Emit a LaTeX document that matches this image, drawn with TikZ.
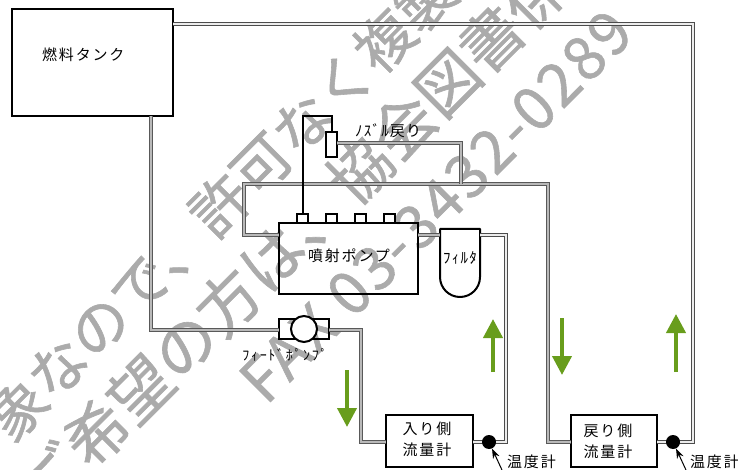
\documentclass[tikz,border=0pt]{standalone}
\usepackage{fontspec}
\usepackage{xcolor}
\usetikzlibrary{arrows.meta}
\newfontfamily\jpm[FakeBold=1]{Noto Sans CJK JP}
\newfontfamily\jpl[LetterSpace=4,FakeBold=1]{Noto Sans CJK JP}
\newfontfamily\jpw[LetterSpace=12]{Noto Sans CJK JP}
\newfontfamily\jpn[LetterSpace=8]{Noto Sans CJK JP}
\definecolor{wm}{HTML}{ABABAB}
\definecolor{flow}{HTML}{689D1C}
\tikzset{
  pipe/.style={draw=black!65,line width=.9pt,double=gray!55,double distance=1.6pt,line join=miter},
  pipew/.style={draw=black!70,line width=.9pt,double=gray!15,double distance=1.8pt,line join=miter},
  thick box/.style={draw=black,line width=2pt,inner sep=0pt,outer sep=0pt},
  wmark/.style={text=wm,rotate=45,inner sep=0pt,font=\jpm\fontsize{60}{60}\selectfont},
  lab/.style={inner sep=0pt,text=black,font=\jpw\fontsize{15}{15}\selectfont,align=center},
  small/.style={inner sep=0pt,text=black,font=\jpn\fontsize{15}{15}\selectfont},
  flowarrow/.style={draw=flow,line width=4pt,-{Triangle[width=19pt,length=19pt]}},
  pointer/.style={draw=black,line width=1pt,-{Stealth[width=7pt,length=10pt]}},
}
\begin{document}
\begin{tikzpicture}[x=1pt,y=-1pt]
\useasboundingbox (0,0) rectangle (738,470);
\begin{scope}
\clip (0,0) rectangle (738,470);
\node[wmark,font=\jpm\fontsize{58}{58}\selectfont] (wm1) at (221,204) {象なので、許可なく複製};
\node[wmark,font=\jpm\fontsize{62}{62}\selectfont] (wm2) at (294,236) {ご希望の方は、協会図書係};
\node[wmark,font=\jpl\fontsize{60}{60}\selectfont] (wm3) at (436,206) {FAX 03-3432-0289};
\end{scope}
% equipment
\node[thick box,minimum width=161pt,minimum height=107pt] (tank) at (92.5,62.5) {};
\node[lab,anchor=west] (tanklabel) at (42,55) {燃料タンク};
\node[thick box,minimum width=139pt,minimum height=71pt] (injpump) at (348.5,258.5) {};
\node[lab] (injlabel) at (349,256) {噴射ポンプ};
\foreach \n/\x in {a/302.5,b/331.5,c/360,d/389}
  \node[thick box,minimum width=11pt,minimum height=9pt,anchor=south] (port\n) at (\x,223) {};
\node[thick box,minimum width=11pt,minimum height=25pt] (nozzle) at (331.5,144.5) {};
\node[small,anchor=west] (nozlabel) at (355,131) {ﾉｽﾞﾙ戻り};
\node[thick box,minimum width=50pt,minimum height=20pt] (feed) at (304,329) {};
\node[thick box,circle,minimum size=26pt,fill=white] (feedc) at (304,329) {};
\node[small,font=\jpw\fontsize{14}{14}\selectfont] (feedlabel) at (285,355) {ﾌｨｰﾄﾞﾎﾟﾝﾌﾟ};
\draw[line width=2pt,line join=round] (440,229) -- (480,229) -- (480,277) arc[start angle=360,end angle=180,radius=20pt] -- cycle;
\node[small] (filterlabel) at (460,258) {ﾌｨﾙﾀ};
\node[thick box,minimum width=87pt,minimum height=52pt] (inbox) at (429.5,441) {};
\node[lab] (inlabel) at (427,439) {入り側\\[6pt]流量計};
\node[thick box,minimum width=86pt,minimum height=52pt] (retbox) at (614,441) {};
\node[lab] (retlabel) at (608,441) {戻り側\\[6pt]流量計};
\node[lab,anchor=west] (t1label) at (507,462) {温度計};
\node[lab,anchor=west] (t2label) at (690,462) {温度計};
% named pipe ends
\coordinate (tankTop) at (173,24);
\coordinate (tankBot) at (151,116);
\coordinate (feedL) at (279,330);
\coordinate (feedR) at (329,330);
\coordinate (inL) at (386,442);
\coordinate (inR) at (473,442);
\coordinate (retL) at (571,442);
\coordinate (retR) at (657,442);
\coordinate (pumpBack) at (279,235);
\coordinate (pumpOut) at (418,235);
\coordinate (filtL) at (440,235);
\coordinate (filtR) at (480,235);
\coordinate (nozR) at (337,143);
\coordinate (mainJoin) at (461,184);
% pipes
\draw[pipew] (tankTop) -- (693,24) -- (693,442) -- (retR);
\draw[pipe] (tankBot) -- (151,330) -- (feedL);
\draw[pipe] (feedR) -- (361,330) -- (361,442) -- (inL);
\draw[pipew] (inR) -- (506,442) -- (506,235) -- (filtR);
\draw[pipe] (pumpOut) -- (filtL);
\draw[pipe] (retL) -- (548,442) -- (548,184) -- (244,184) -- (244,235) -- (pumpBack);
\draw[pipe] (nozR) -- (461,143) -- (mainJoin);
\draw[line width=2pt,line join=miter] (porta.north) -- (302.5,116) -- (331.5,116) -- (nozzle.north);
% thermometers
\node[circle,fill=black,minimum size=14pt,inner sep=0pt] (t1) at (489,442) {};
\node[circle,fill=black,minimum size=14pt,inner sep=0pt] (t2) at (673,442) {};
% flow arrows
\coordinate (f1a) at (347,370); \coordinate (f1b) at (347,427);
\coordinate (f2a) at (493,372); \coordinate (f2b) at (493,319);
\coordinate (f3a) at (562,318); \coordinate (f3b) at (562,375);
\coordinate (f4a) at (676,372); \coordinate (f4b) at (676,314);
\draw[flowarrow] (f1a) -- (f1b);
\draw[flowarrow] (f2a) -- (f2b);
\draw[flowarrow] (f3a) -- (f3b);
\draw[flowarrow] (f4a) -- (f4b);
% thermometer pointers
\coordinate (p1) at (502,470); \coordinate (p2) at (686,470);
\draw[pointer] (p1) -- (t1);
\draw[pointer] (p2) -- (t2);
\end{tikzpicture}
\end{document}
